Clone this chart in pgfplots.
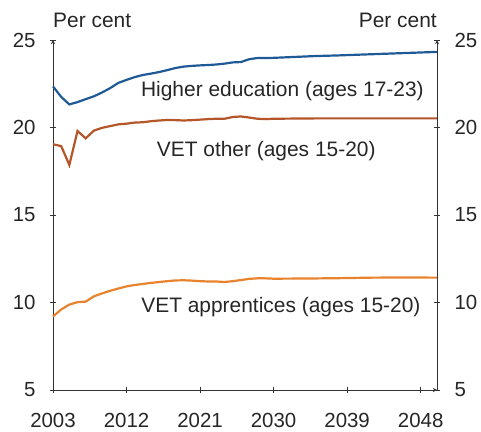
\documentclass[border=0pt]{standalone}
\usepackage{fontspec}
\setmainfont{Liberation Sans}
\usepackage{pgfplots}
\pgfplotsset{compat=1.18}
\definecolor{hedblue}{HTML}{1F5A96}
\definecolor{vetbrown}{HTML}{B5562A}
\definecolor{vetorange}{HTML}{E9822C}
\definecolor{axgray}{HTML}{333333}

\pgfplotstableread{
year val
2003 22.35
2004 21.75
2005 21.32
2006 21.45
2007 21.62
2008 21.78
2009 22.00
2010 22.25
2011 22.55
2012 22.72
2013 22.88
2014 23.00
2015 23.08
2016 23.17
2017 23.28
2018 23.40
2019 23.48
2020 23.52
2021 23.55
2022 23.57
2023 23.60
2024 23.65
2025 23.72
2026 23.74
2027 23.90
2028 23.97
2029 23.97
2030 23.98
2032 24.02
2035 24.08
2038 24.12
2041 24.17
2044 24.22
2047 24.27
2050 24.32
}\hed

\pgfplotstableread{
year val
2003 19.04
2004 18.94
2005 17.86
2006 19.80
2007 19.38
2008 19.82
2009 19.98
2010 20.08
2011 20.18
2012 20.22
2013 20.28
2014 20.30
2015 20.36
2016 20.40
2017 20.43
2018 20.42
2019 20.40
2020 20.42
2021 20.45
2022 20.48
2023 20.50
2024 20.50
2025 20.60
2026 20.63
2027 20.57
2028 20.50
2029 20.48
2030 20.50
2035 20.52
2040 20.52
2045 20.52
2050 20.52
}\vetother

\pgfplotstableread{
year val
2003 9.20
2004 9.60
2005 9.88
2006 10.02
2007 10.05
2008 10.35
2009 10.52
2010 10.67
2011 10.80
2012 10.92
2013 11.00
2014 11.06
2015 11.12
2016 11.17
2017 11.22
2018 11.26
2019 11.27
2020 11.25
2021 11.22
2022 11.20
2023 11.20
2024 11.17
2025 11.22
2026 11.28
2027 11.35
2028 11.38
2029 11.38
2030 11.36
2034 11.37
2038 11.39
2042 11.42
2046 11.43
2050 11.42
}\vetapp

\begin{document}
\begin{tikzpicture}
\pgfplotsset{every axis/.append style={
  width=384bp,height=350bp,scale only axis,
  xmin=2003,xmax=2050,ymin=5,ymax=25,
  ytick={5,10,15,20,25},
  tick align=inside,major tick length=6bp,
  axis line style={-,axgray,line width=0.9bp},
  every tick/.style={axgray,line width=0.9bp},
  tick label style={font=\fontsize{20.5}{24}\selectfont,text=black!85},
  /pgf/number format/assume math mode=true,
  /pgf/number format/1000 sep={},
}}
\begin{axis}[
  axis x line=bottom,axis y line=left,
  xtick={2003,2012,2021,2030,2039,2048},
  yticklabel style={xshift=-11bp},
  xticklabel style={yshift=-17bp},
  clip=false,
]
\addplot[hedblue,line width=2.2bp] table[x=year,y=val] {\hed};
\addplot[vetbrown,line width=2.2bp] table[x=year,y=val] {\vetother};
\addplot[vetorange,line width=2.2bp] table[x=year,y=val] {\vetapp};
\node[anchor=base east,inner sep=0,font=\fontsize{21}{24}\selectfont,text=black!85] at (axis cs:2048.4,21.76) {Higher education (ages 17-23)};
\node[anchor=base east,inner sep=0,font=\fontsize{21}{24}\selectfont,text=black!85] at (axis cs:2042.5,18.37) {VET other (ages 15-20)};
\node[anchor=base east,inner sep=0,font=\fontsize{21}{24}\selectfont,text=black!85] at (axis cs:2048.0,9.44) {VET apprentices (ages 15-20)};
\node[anchor=base west,font=\fontsize{21}{24}\selectfont,text=black!85,inner sep=0] at ([yshift=12bp]current axis.north west) {Per cent};
\node[anchor=base east,font=\fontsize{21}{24}\selectfont,text=black!85,inner sep=0] at ([yshift=12bp]current axis.north east) {Per cent};
\end{axis}
\begin{axis}[
  axis x line=none,axis y line=right,
  yticklabel style={xshift=11bp},
]
\end{axis}
\path ([xshift=-53bp,yshift=-40bp]current axis.south west) rectangle ([xshift=44bp,yshift=40bp]current axis.north east);
\end{tikzpicture}
\end{document}
